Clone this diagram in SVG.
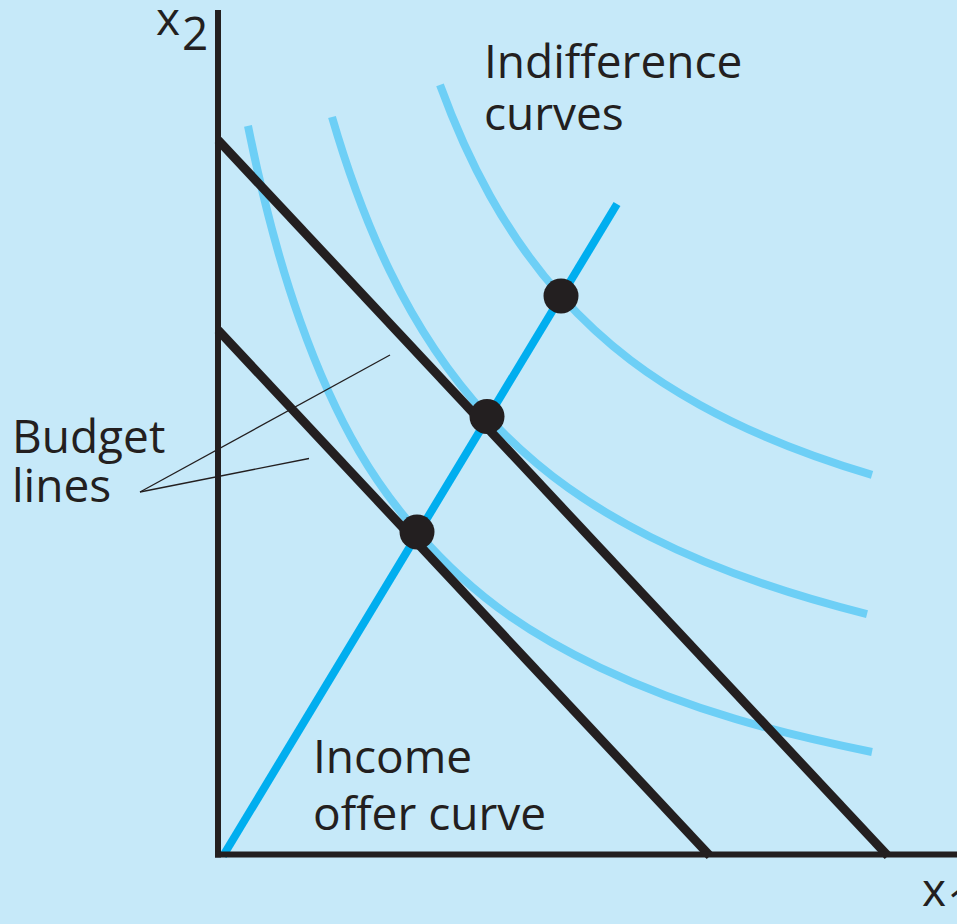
<svg xmlns="http://www.w3.org/2000/svg" width="957" height="924" viewBox="0 0 957 924">
<style>
.ic{fill:none;stroke:#6dcff6;stroke-width:8}
.ioc{fill:none;stroke:#00aeef;stroke-width:8}
.bl{fill:none;stroke:#231f20;stroke-width:9}
.ax{fill:none;stroke:#231f20;stroke-width:6}
.ld{fill:none;stroke:#231f20;stroke-width:1.3}
.dot{fill:#231f20}
.t{font-family:"Open Sans","Liberation Sans",sans-serif;fill:#231f20;font-size:46px}
</style>
<rect width="957" height="924" fill="#c6e9f9"/>
<g id="indifference-curves">
<path id="ic1" class="ic" d="M248,125.9 C265.33,212.2 282.67,271.7 300,320.5 C339.33,431.2 378.67,487.6 418,532.9 C478.67,602.7 539.33,638.7 600,667.6 C690.67,710.7 781.33,733.7 872,752"/>
<path id="ic2" class="ic" d="M332,117 C351.33,183.5 370.67,231.5 390,271.3 C422.33,337.8 454.67,381 487,416 C541.33,474.8 595.67,509.2 650,536.7 C722.33,573.3 794.67,596 867,614.1"/>
<path id="ic3" class="ic" d="M440,84.9 C456.67,130.5 473.33,165.8 490,195.7 C513.67,238.1 537.33,269.6 561,295.9 C607.33,347.4 653.67,379.3 700,405 C757.33,436.8 814.67,457.8 872,474.9"/>
</g>
<g id="connectors">
<line id="income-offer-curve" class="ioc" x1="223" y1="856" x2="617" y2="204"/>
<line id="budget-line-high" class="bl" x1="218" y1="140" x2="888" y2="856"/>
<line id="budget-line-low" class="bl" x1="218" y1="330" x2="710" y2="856"/>
<line class="ld" x1="140" y1="492" x2="390" y2="355"/>
<line class="ld" x1="140" y1="492" x2="309" y2="458.5"/>
</g>
<g id="optima">
<circle id="opt1" class="dot" cx="417" cy="532" r="17.5"/>
<circle id="opt2" class="dot" cx="487" cy="416.5" r="17.5"/>
<circle id="opt3" class="dot" cx="561" cy="296" r="17.5"/>
</g>
<g id="axes">
<line class="ax" x1="218" y1="10" x2="218" y2="857.5"/>
<line class="ax" x1="215" y1="854.5" x2="957" y2="854.5"/>
</g>
<g id="labels">
<text class="t" x="156" y="35" font-size="44">x</text>
<text class="t" x="182" y="50" font-size="32">2</text>
<text class="t" x="922" y="906" font-size="44">x</text>
<text class="t" x="947" y="921" font-size="32">1</text>
<text class="t" x="484" y="78">Indifference</text>
<text class="t" x="484" y="130">curves</text>
<text class="t" x="12" y="453">Budget</text>
<text class="t" x="12" y="502">lines</text>
<text class="t" x="313" y="773">Income</text>
<text class="t" x="313" y="830">offer curve</text>
</g>
</svg>
